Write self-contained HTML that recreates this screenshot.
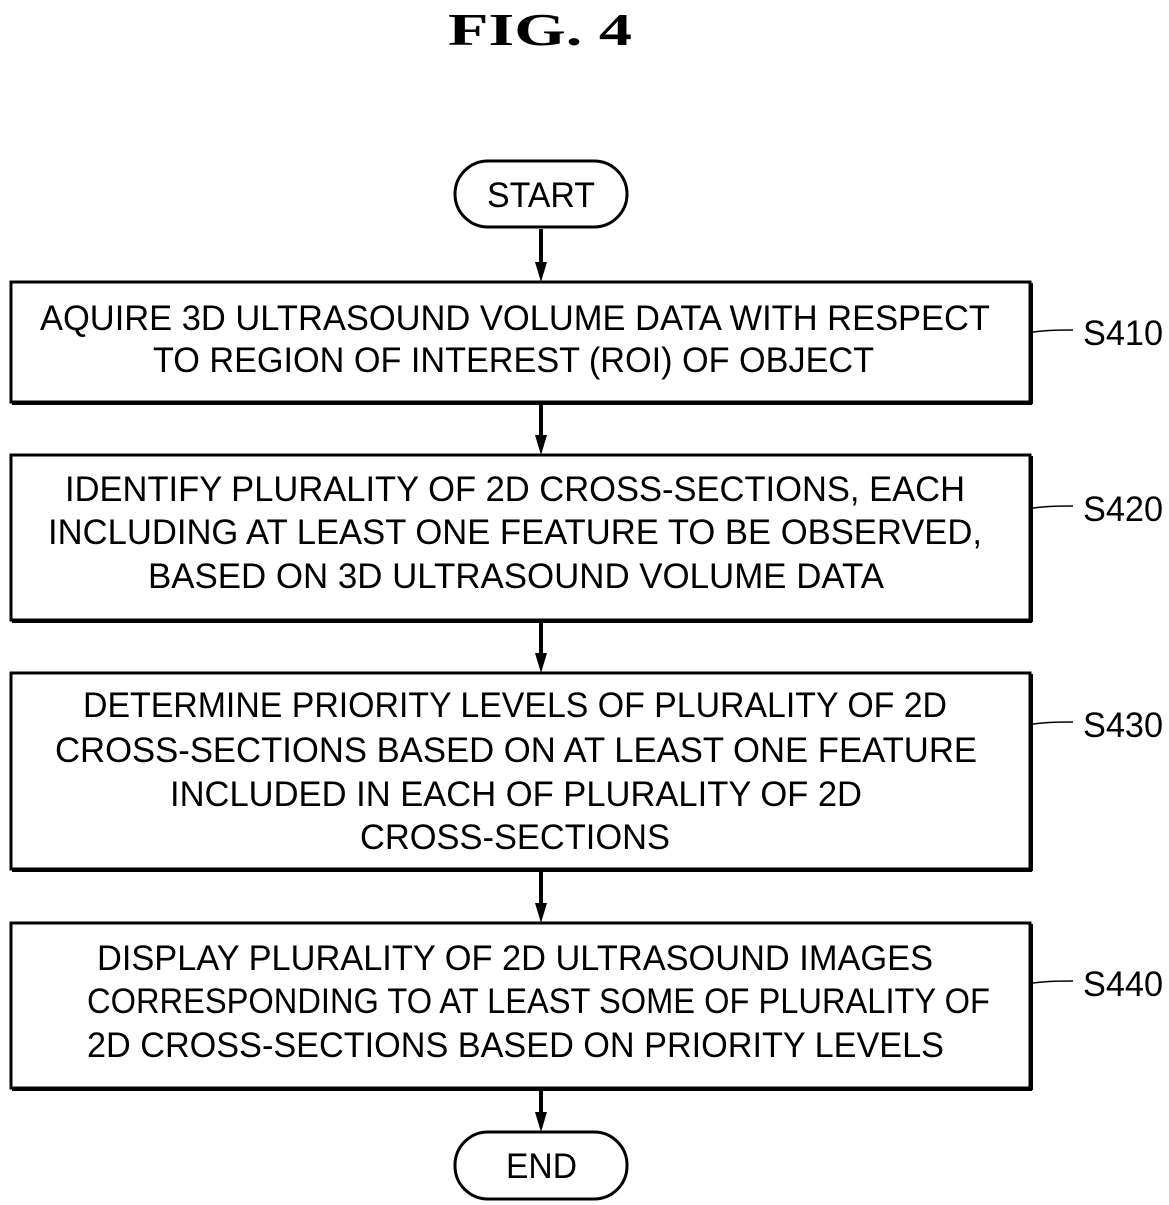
<!DOCTYPE html>
<html><head><meta charset="utf-8"><style>html,body{margin:0;padding:0;background:#fff}svg{display:block}</style></head>
<body>
<svg width="1169" height="1205" viewBox="0 0 1169 1205" xmlns="http://www.w3.org/2000/svg">
<text x="540" y="45" text-anchor="middle" font-family="Liberation Serif, serif" font-weight="bold" font-size="46" textLength="184" lengthAdjust="spacingAndGlyphs">FIG. 4</text>
<g fill="none" stroke="#000" stroke-width="3">
<rect x="455" y="161" width="172" height="66" rx="33"/>
<rect x="455" y="1132" width="172" height="67" rx="33"/>
<rect x="11" y="282" width="1019" height="120"/>
<rect x="11" y="455" width="1019" height="165"/>
<rect x="11" y="673" width="1019" height="196"/>
<rect x="11" y="923" width="1019" height="165"/>
</g>
<g stroke="#000" stroke-width="4">
<line x1="1031" y1="283" x2="1031" y2="404"/><line x1="12" y1="403" x2="1032" y2="403"/>
<line x1="1031" y1="456" x2="1031" y2="622"/><line x1="12" y1="621" x2="1032" y2="621"/>
<line x1="1031" y1="674" x2="1031" y2="871"/><line x1="12" y1="870" x2="1032" y2="870"/>
<line x1="1031" y1="924" x2="1031" y2="1090"/><line x1="12" y1="1089" x2="1032" y2="1089"/>
<line x1="541" y1="229" x2="541" y2="270"/>
<line x1="541" y1="405" x2="541" y2="443"/>
<line x1="541" y1="623" x2="541" y2="661"/>
<line x1="541" y1="872" x2="541" y2="911"/>
<line x1="541" y1="1091" x2="541" y2="1120"/>
</g>
<g fill="#000">
<polygon points="535,262 547,262 541,282"/>
<polygon points="535,435 547,435 541,455"/>
<polygon points="535,653 547,653 541,673"/>
<polygon points="535,903 547,903 541,923"/>
<polygon points="535,1112 547,1112 541,1132"/>
</g>
<g stroke="#000" stroke-width="1.5" fill="none">
<path d="M1033,332 C1050,330 1060,330 1073,330"/>
<path d="M1033,508 C1050,506 1060,506 1073,506"/>
<path d="M1033,724 C1050,722 1060,722 1073,722"/>
<path d="M1033,983 C1050,981 1060,981 1073,981"/>
</g>
<g font-family="Liberation Sans, sans-serif" font-size="35" fill="#000">
<text x="487" y="207" textLength="108" lengthAdjust="spacingAndGlyphs">START</text>
<text x="506" y="1178" textLength="71" lengthAdjust="spacingAndGlyphs">END</text>
<text x="40" y="330" textLength="950" lengthAdjust="spacingAndGlyphs">AQUIRE 3D ULTRASOUND VOLUME DATA WITH RESPECT</text>
<text x="153" y="372" textLength="721" lengthAdjust="spacingAndGlyphs">TO REGION OF INTEREST (ROI) OF OBJECT</text>
<text x="65" y="501" textLength="900" lengthAdjust="spacingAndGlyphs">IDENTIFY PLURALITY OF 2D CROSS-SECTIONS, EACH</text>
<text x="48" y="544" textLength="934" lengthAdjust="spacingAndGlyphs">INCLUDING AT LEAST ONE FEATURE TO BE OBSERVED,</text>
<text x="148" y="588" textLength="736" lengthAdjust="spacingAndGlyphs">BASED ON 3D ULTRASOUND VOLUME DATA</text>
<text x="83" y="717" textLength="864" lengthAdjust="spacingAndGlyphs">DETERMINE PRIORITY LEVELS OF PLURALITY OF 2D</text>
<text x="55" y="762" textLength="922" lengthAdjust="spacingAndGlyphs">CROSS-SECTIONS BASED ON AT LEAST ONE FEATURE</text>
<text x="170" y="806" textLength="692" lengthAdjust="spacingAndGlyphs">INCLUDED IN EACH OF PLURALITY OF 2D</text>
<text x="360" y="849" textLength="310" lengthAdjust="spacingAndGlyphs">CROSS-SECTIONS</text>
<text x="97" y="970" textLength="836" lengthAdjust="spacingAndGlyphs">DISPLAY PLURALITY OF 2D ULTRASOUND IMAGES</text>
<text x="87" y="1013" textLength="903" lengthAdjust="spacingAndGlyphs">CORRESPONDING TO AT LEAST SOME OF PLURALITY OF</text>
<text x="87" y="1057" textLength="857" lengthAdjust="spacingAndGlyphs">2D CROSS-SECTIONS BASED ON PRIORITY LEVELS</text>
<text x="1083" y="345" textLength="80" lengthAdjust="spacingAndGlyphs">S410</text>
<text x="1083" y="521" textLength="80" lengthAdjust="spacingAndGlyphs">S420</text>
<text x="1083" y="737" textLength="80" lengthAdjust="spacingAndGlyphs">S430</text>
<text x="1083" y="996" textLength="80" lengthAdjust="spacingAndGlyphs">S440</text>
</g>
</svg>
</body></html>
